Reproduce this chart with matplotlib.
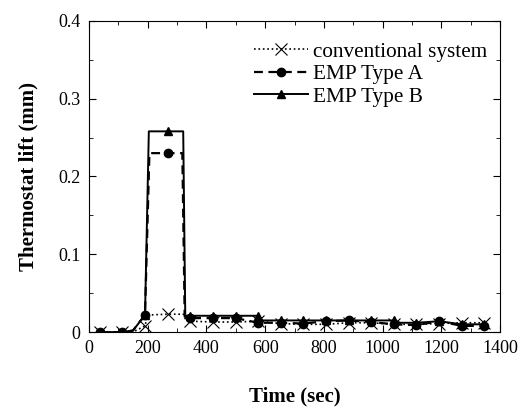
import numpy as np
import matplotlib.pyplot as plt
from matplotlib.ticker import MultipleLocator, FuncFormatter

plt.rcParams['font.family'] = ['Liberation Serif', 'DejaVu Serif']

# marker sampling times (sec)
mark_time = [37, 114, 191, 268, 345, 422, 499, 576, 653, 730, 807, 884, 961, 1038, 1115, 1192, 1269, 1346]

# conventional system
conv_time = [37, 114, 160, 191, 200, 268, 322, 330, 345, 422, 499, 576, 653, 730, 807, 884, 961, 1038, 1115, 1192, 1269, 1346]
conv_lift = [0, 0, 0.002, 0.008, 0.022, 0.023, 0.023, 0.015, 0.014, 0.013, 0.013, 0.014, 0.011, 0.010, 0.010, 0.012, 0.012, 0.010, 0.010, 0.011, 0.012, 0.012]

# EMP Type A
a_time = [37, 114, 150, 191, 206, 268, 318, 326, 345, 422, 499, 576, 653, 730, 807, 884, 961, 1038, 1115, 1192, 1269, 1346]
a_lift = [0, 0, 0.002, 0.022, 0.230, 0.230, 0.230, 0.020, 0.018, 0.018, 0.018, 0.012, 0.012, 0.011, 0.014, 0.015, 0.013, 0.010, 0.009, 0.014, 0.008, 0.008]

# EMP Type B
b_time = [37, 114, 150, 191, 204, 268, 321, 328, 345, 422, 499, 576, 590, 653, 730, 807, 884, 961, 1038, 1060, 1115, 1192, 1269, 1346]
b_lift = [0, 0, 0.002, 0.022, 0.258, 0.258, 0.258, 0.021, 0.021, 0.021, 0.021, 0.021, 0.015, 0.015, 0.015, 0.015, 0.015, 0.015, 0.015, 0.012, 0.012, 0.014, 0.010, 0.010]


def mark_idx(t):
    return list(np.nonzero(np.isin(t, mark_time))[0])


fig = plt.figure(figsize=(5.26, 4.09), dpi=100)
ax = fig.add_axes([0.169, 0.188, 0.782, 0.761])

ax.plot(conv_time, conv_lift, color='k', linestyle=':', linewidth=1.2, marker='x', markersize=8,
        markeredgewidth=0.8, markevery=mark_idx(conv_time), label='conventional system')
ax.plot(a_time, a_lift, color='k', linestyle=(0, (4, 2.5)), linewidth=1.6, marker='o', markersize=6,
        markevery=mark_idx(a_time), label='EMP Type A')
ax.plot(b_time, b_lift, color='k', linestyle='-', linewidth=1.4, marker='^', markersize=6,
        markevery=mark_idx(b_time), label='EMP Type B')

ax.set_xlim(0, 1400)
ax.set_ylim(0, 0.4)
ax.xaxis.set_major_locator(MultipleLocator(200))
ax.xaxis.set_minor_locator(MultipleLocator(100))
ax.yaxis.set_major_locator(MultipleLocator(0.1))
ax.yaxis.set_minor_locator(MultipleLocator(0.05))
ax.yaxis.set_major_formatter(FuncFormatter(lambda v, p: '0' if abs(v) < 1e-9 else f'{v:.1f}'))
ax.tick_params(which='both', direction='in', top=True, right=True, labelsize=13, pad=6)
ax.tick_params(which='major', length=5)
ax.tick_params(which='minor', length=3)

ax.set_xlabel('Time (sec)', fontsize=15, fontweight='bold', labelpad=21)
ax.set_ylabel('Thermostat lift (mm)', fontsize=15, fontweight='bold', labelpad=14)

ax.legend(loc='upper right', bbox_to_anchor=(1.012, 0.99), frameon=False, fontsize=15.3,
          handlelength=2.5, handletextpad=0.25, labelspacing=0.12, borderaxespad=0.1, borderpad=0.75)

fig.savefig('out.png', dpi=100)
